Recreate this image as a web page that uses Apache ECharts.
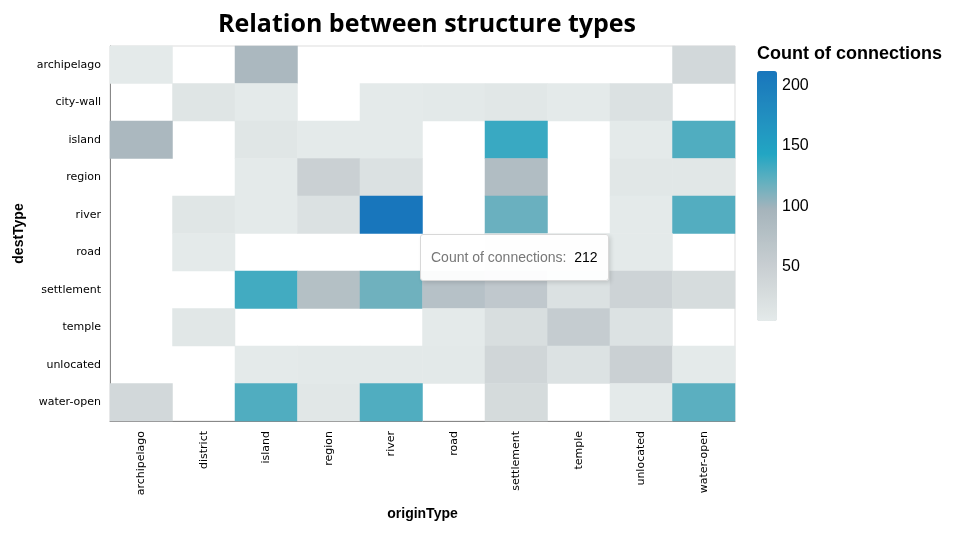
<!doctype html>
<html>
 <head>
  <meta charset="UTF-8">
  <script src="https://cdn.jsdelivr.net/npm/echarts@6/dist/echarts.min.js"></script>
  <title>Relation between structure types</title>
  <style>
   html, body { margin: 0; padding: 0; background: #fff; }
  </style>
 </head>
 <script type="text/javascript">
    // columns (x) and rows (y)
    var originTypes = ['archipelago','district','island','region','river','road','settlement','temple','unlocated','water-open'];
    var destTypes = ['archipelago','city-wall','island','region','river','road','settlement','temple','unlocated','water-open'];

    // one row per destType, one value per originType (null = no connection)
    var rowArchipelago = [5, null, 90, null, null, null, null, null, null, 35];
    var rowCityWall    = [null, 14, 5, null, 5, 6, 10, 5, 20, null];
    var rowIsland      = [90, null, 12, 5, 5, null, 135, null, 5, 127];
    var rowRegion      = [null, null, 5, 48, 20, null, 82, null, 10, 10];
    var rowRiver       = [null, 12, 5, 20, 212, null, 118, null, 5, 126];
    var rowRoad        = [null, 5, null, null, null, null, 8, 5, 5, null];
    var rowSettlement  = [null, null, 132, 78, 116, 75, 62, 20, 42, 28];
    var rowTemple      = [null, 10, null, null, null, 5, 24, 55, 18, null];
    var rowUnlocated   = [null, null, 5, 6, 6, 6, 38, 18, 48, 5];
    var rowWaterOpen   = [35, null, 127, 10, 127, null, 30, null, 5, 123];

    var legendTicks = [50, 100, 150, 200];
    var colorScheme = ['#e4eaea','#d6dcdd','#c8ced2','#b7c2c7','#a6b4bc','#64b0bf','#22a6c3','#2295c1','#1f85be','#1876bc'];

 	var loadData = function() {
 		var rows = [rowArchipelago, rowCityWall, rowIsland, rowRegion, rowRiver, rowRoad,
 		            rowSettlement, rowTemple, rowUnlocated, rowWaterOpen];
 		var data = [];
 		var maxIdx = 0, maxVal = -1, minVal = Infinity;
 		for (var r = 0; r < rows.length; r++) {
 			for (var c = 0; c < rows[r].length; c++) {
 				var v = rows[r][c];
 				if (v === null) continue;
 				if (v > maxVal) { maxVal = v; maxIdx = data.length; }
 				if (v < minVal) minVal = v;
 				data.push([c, r, v]);
 			}
 		}
 		var font = 'Liberation Sans, Arial, sans-serif';
 		var tickFont = 'DejaVu Sans, sans-serif';
 		var myChart = echarts.init(document.getElementById('chart'));
 		myChart.setOption({
 			animation: false,
 			title: [{
 				text: 'Relation between structure types',
 				left: 422, top: 7, textAlign: 'center',
 				textStyle: { fontFamily: 'Open Sans, sans-serif', fontSize: 25, fontWeight: 'bold', color: '#000' }
 			}, {
 				text: 'Count of connections',
 				left: 757, top: 45, padding: 0,
 				textStyle: { fontFamily: font, fontSize: 18, fontWeight: 'bold', color: '#000' }
 			}],
 			tooltip: {
 				trigger: 'item',
 				alwaysShowContent: true,
 				transitionDuration: 0,
 				position: [420, 234],
 				backgroundColor: 'rgba(255,255,255,0.95)',
 				borderColor: '#d8d8d8',
 				borderWidth: 1,
 				padding: [12, 10, 12, 10],
 				extraCssText: 'border-radius:3px;box-shadow:2px 2px 4px rgba(0,0,0,0.12);',
 				textStyle: { fontFamily: font, fontSize: 14 },
 				formatter: function (p) {
 					return '<span style="color:#777">Count of connections:</span>&nbsp; <span style="color:#000">' + p.value[2] + '</span>';
 				}
 			},
 			grid: [
 				{ left: 110, right: 235, top: 46, bottom: 120, show: true, borderColor: '#ddd', borderWidth: 1 },
 				{ left: 757, top: 71, width: 20, height: 250 }
 			],
 			xAxis: [{
 				type: 'category',
 				data: originTypes,
 				name: 'originType',
 				nameLocation: 'middle',
 				nameGap: 86,
 				nameTextStyle: { fontFamily: font, fontSize: 14, fontWeight: 'bold', color: '#000' },
 				axisLine: { lineStyle: { color: '#888' } },
 				axisTick: { alignWithLabel: true, length: 5, lineStyle: { color: '#888' } },
 				axisLabel: { rotate: 90, margin: 10, fontFamily: tickFont, fontSize: 11, color: '#000', interval: 0 },
 				splitArea: { show: false }
 			}, {
 				gridIndex: 1, type: 'value', show: false
 			}],
 			yAxis: [{
 				type: 'category',
 				data: destTypes,
 				inverse: true,
 				name: 'destType',
 				nameLocation: 'middle',
 				nameGap: 80,
 				nameTextStyle: { fontFamily: font, fontSize: 14, fontWeight: 'bold', color: '#000' },
 				axisLine: { lineStyle: { color: '#888' } },
 				axisTick: { alignWithLabel: true, length: 5, lineStyle: { color: '#888' } },
 				axisLabel: { margin: 9, fontFamily: tickFont, fontSize: 11, color: '#000', interval: 0 }
 			}, {
 				gridIndex: 1,
 				type: 'value',
 				min: minVal,
 				max: maxVal,
 				splitNumber: 4,
 				position: 'right',
 				axisLine: { show: false },
 				axisTick: { show: false },
 				splitLine: { show: false },
 				axisLabel: {
 					margin: 5, fontFamily: font, fontSize: 16, color: '#000',
 					showMinLabel: false, showMaxLabel: false,
 					formatter: function (v) { return legendTicks.indexOf(v) >= 0 ? String(v) : ''; }
 				}
 			}],
 			visualMap: {
 				type: 'continuous',
 				min: minVal,
 				max: maxVal,
 				dimension: 2,
 				seriesIndex: 0,
 				calculable: false,
 				hoverLink: false,
 				left: 757,
 				top: 71,
 				padding: 0,
 				itemWidth: 20,
 				itemHeight: 250,
 				text: ['', ''],
 				showLabel: false,
 				inRange: { color: colorScheme }
 			},
 			series: [{
 				name: 'Count of connections',
 				type: 'heatmap',
 				data: data,
 				emphasis: { disabled: true }
 			}]
 		});
 		setTimeout(function () {
 			myChart.dispatchAction({ type: 'showTip', seriesIndex: 0, dataIndex: maxIdx });
 		}, 50);
 	}
 </script>
 <body onload="loadData()">
  <div id="chart" style="height: 541px; width: 970px; margin: 0"></div>
 </body>
</html>
